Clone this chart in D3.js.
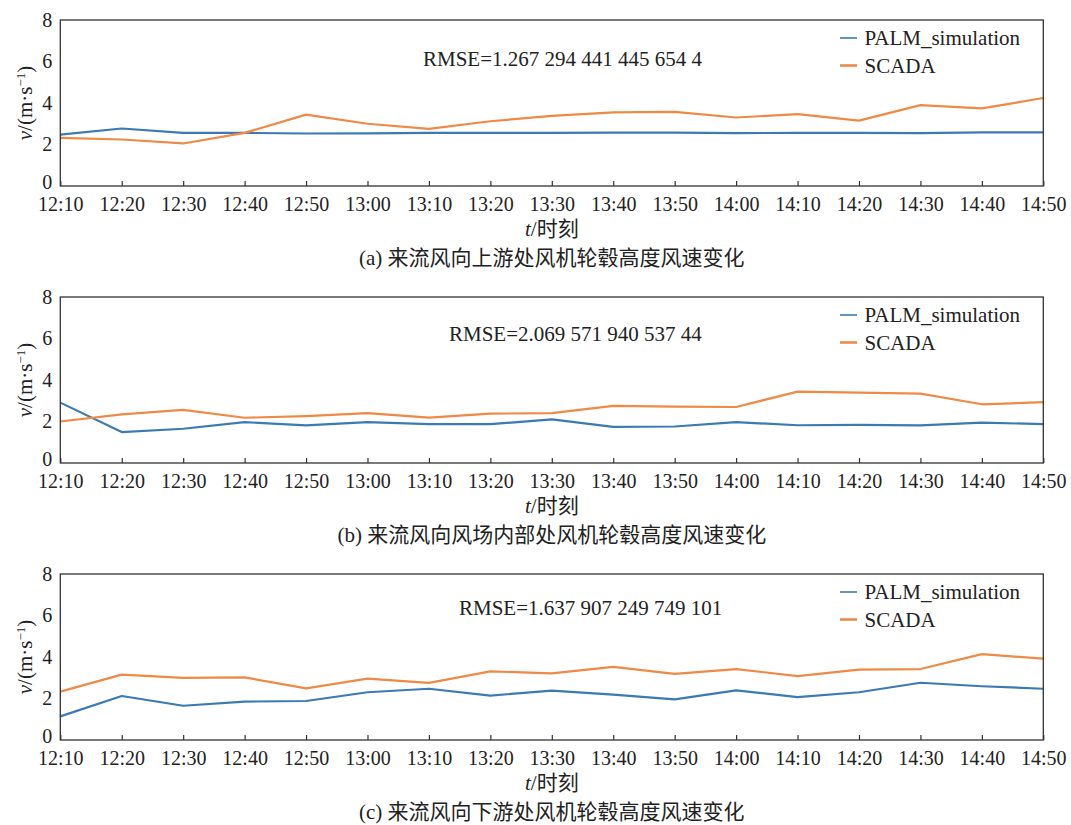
<!DOCTYPE html>
<html>
<head>
<meta charset="utf-8">
<script src="https://cdn.jsdelivr.net/npm/d3@7/dist/d3.min.js"></script>
<style>
  html, body { margin: 0; padding: 0; background: #fff; }
  svg { display: block; }
  text { font-family: "Liberation Serif", "Times New Roman", "Noto Sans CJK SC", serif; fill: #222; }
</style>
</head>
<body>
<svg id="chart" width="1071" height="825"></svg>
<script>
// Time stamps along the x axis (10-minute steps)
const times = ["12:10","12:20","12:30","12:40","12:50","13:00","13:10","13:20","13:30",
               "13:40","13:50","14:00","14:10","14:20","14:30","14:40","14:50"];
const yTicks = [0, 2, 4, 6, 8];

// (a) upstream hub-height wind speed, m/s
const palmA  = [2.48, 2.77, 2.56, 2.56, 2.53, 2.54, 2.56, 2.56, 2.56, 2.57, 2.57, 2.55, 2.56, 2.56, 2.55, 2.58, 2.58];
const scadaA = [2.32, 2.24, 2.05, 2.56, 3.44, 3.00, 2.75, 3.12, 3.38, 3.55, 3.57, 3.30, 3.46, 3.15, 3.90, 3.74, 4.24];

// (b) inside the wind farm
const palmB  = [2.91, 1.49, 1.65, 1.97, 1.81, 1.97, 1.87, 1.87, 2.10, 1.74, 1.76, 1.97, 1.82, 1.84, 1.81, 1.95, 1.87];
const scadaB = [2.00, 2.34, 2.56, 2.18, 2.26, 2.40, 2.19, 2.38, 2.40, 2.75, 2.72, 2.70, 3.44, 3.39, 3.34, 2.83, 2.93];

// (c) downstream
const palmC  = [1.14, 2.12, 1.65, 1.85, 1.88, 2.30, 2.47, 2.14, 2.38, 2.19, 1.96, 2.39, 2.07, 2.30, 2.76, 2.59, 2.47];
const scadaC = [2.33, 3.15, 2.99, 3.02, 2.49, 2.96, 2.75, 3.31, 3.21, 3.52, 3.19, 3.42, 3.08, 3.39, 3.42, 4.14, 3.92];

const rmseLabels = ["RMSE=1.267 294 441 445 654 4", "RMSE=2.069 571 940 537 44", "RMSE=1.637 907 249 749 101"];
const captions = ["(a) 来流风向上游处风机轮毂高度风速变化",
                  "(b) 来流风向风场内部处风机轮毂高度风速变化",
                  "(c) 来流风向下游处风机轮毂高度风速变化"];
const seriesNames = ["PALM_simulation", "SCADA"];
const colors = ["#3b7ab5", "#ee8a46"];

const panels = [
  { palm: palmA, scada: scadaA, rmse: rmseLabels[0], caption: captions[0], rmseX: 423 },
  { palm: palmB, scada: scadaB, rmse: rmseLabels[1], caption: captions[1], rmseX: 449 },
  { palm: palmC, scada: scadaC, rmse: rmseLabels[2], caption: captions[2], rmseX: 459 }
];

const svg = d3.select("#chart");
const left = 60.3, right = 1043.3, plotH = 166, panelStep = 277, firstTop = 20;
const tickFont = 20, textFont = 21;

const x = d3.scalePoint().domain(times).range([left, right]).padding(0);

panels.forEach((p, i) => {
  const top = firstTop + i * panelStep;
  const bottom = top + plotH;
  const y = d3.scaleLinear().domain([0, 8]).range([bottom, top]);
  const g = svg.append("g");

  // x axis with inward ticks
  const xAxis = g.append("g")
    .attr("transform", `translate(0,${bottom})`)
    .call(d3.axisBottom(x).tickSizeInner(-5).tickSizeOuter(0).tickPadding(11));
  xAxis.select(".domain").remove();
  xAxis.selectAll(".tick line").attr("stroke", "#333").attr("stroke-width", 1.2);
  xAxis.selectAll(".tick text").attr("font-size", tickFont).attr("fill", "#222")
    .attr("font-family", "Liberation Serif, serif");

  // y axis labels only
  const yAxis = g.append("g")
    .attr("transform", `translate(${left},0)`)
    .call(d3.axisLeft(y).tickValues(yTicks).tickSize(0).tickPadding(8).tickFormat(d3.format("d")));
  yAxis.select(".domain").remove();
  yAxis.selectAll(".tick text").attr("font-size", tickFont).attr("fill", "#222")
    .attr("font-family", "Liberation Serif, serif")
    .attr("dy", d => d === 0 ? "0.1em" : "0.32em");

  // series lines
  const line = d3.line().x((d, k) => x(times[k])).y(d => y(d));
  [p.palm, p.scada].forEach((vals, s) => {
    g.append("path").datum(vals)
      .attr("fill", "none")
      .attr("stroke", colors[s])
      .attr("stroke-width", 2.2)
      .attr("stroke-linejoin", "round")
      .attr("d", line);
  });

  // frame
  g.append("rect")
    .attr("x", left).attr("y", top)
    .attr("width", right - left).attr("height", plotH)
    .attr("fill", "none").attr("stroke", "#333").attr("stroke-width", 1.3);

  // legend
  seriesNames.forEach((name, s) => {
    const ly = top + 18 + s * 27.5;
    g.append("line")
      .attr("x1", 840).attr("x2", 857).attr("y1", ly).attr("y2", ly)
      .attr("stroke", colors[s]).attr("stroke-width", s === 0 ? 1.6 : 2.6);
    g.append("text")
      .attr("x", 864.5).attr("y", ly).attr("dy", "0.35em")
      .attr("font-size", textFont).text(name);
  });

  // RMSE annotation
  g.append("text")
    .attr("x", p.rmseX).attr("y", top + 39 - i * 2.5).attr("dy", "0.35em")
    .attr("font-size", textFont).text(p.rmse);

  // y axis title: v/(m·s⁻¹)
  const yt = g.append("text")
    .attr("transform", `translate(25,${top + plotH / 2}) rotate(-90)`)
    .attr("text-anchor", "middle").attr("dy", "0.35em")
    .attr("font-size", textFont);
  yt.append("tspan").attr("font-style", "italic").text("v");
  yt.append("tspan").text("/(m·s");
  yt.append("tspan").attr("font-size", 13).attr("dy", "-0.6em").text("−1");
  yt.append("tspan").attr("dy", "0.35em").text(")");

  // x axis title: t/时刻
  const xt = g.append("text")
    .attr("x", (left + right) / 2).attr("y", top + 209).attr("dy", "0.35em")
    .attr("text-anchor", "middle").attr("font-size", textFont);
  xt.append("tspan").attr("font-style", "italic").text("t");
  xt.append("tspan").text("/时刻");

  // panel caption
  g.append("text")
    .attr("x", (left + right) / 2).attr("y", top + 238).attr("dy", "0.35em")
    .attr("text-anchor", "middle").attr("font-size", 21)
    .text(p.caption);
});
</script>
</body>
</html>
